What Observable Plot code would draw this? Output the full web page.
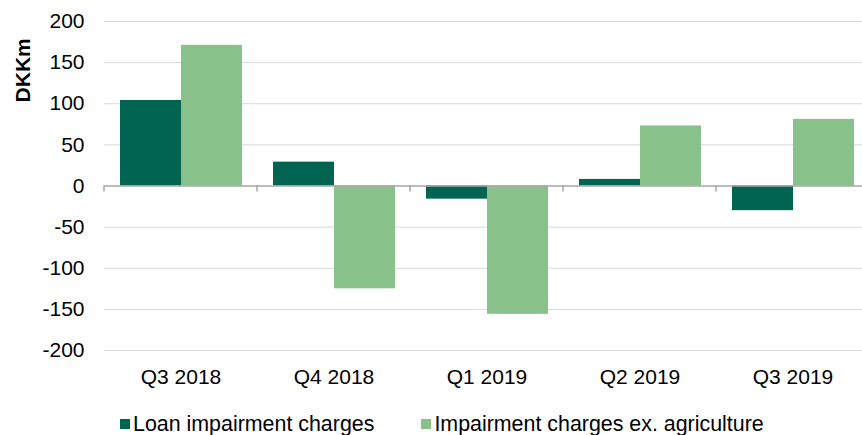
<!DOCTYPE html>
<html><head><meta charset="utf-8">
<script src="https://cdn.jsdelivr.net/npm/d3@7"></script>
<script src="https://cdn.jsdelivr.net/npm/@observablehq/plot@0.6"></script>
<style>
body{margin:0;background:#fff;}
#wrap{position:relative;width:862px;height:435px;overflow:hidden;font-family:"Liberation Sans",Arial,sans-serif;background:#fff;}
#legend{position:absolute;left:120px;top:412px;font-size:21.4px;color:#000;display:flex;align-items:center;white-space:nowrap;line-height:24px;}
.item{display:flex;align-items:center;}
.sw{display:inline-block;width:10px;height:10px;margin-right:3px;}
</style></head>
<body><div id="wrap"><div id="chart"></div><div id="legend"></div></div>
<script>
const quarters = ["Q3 2018", "Q4 2018", "Q1 2019", "Q2 2019", "Q3 2019"];
const seriesNames = ["Loan impairment charges", "Impairment charges ex. agriculture"];
const loanImpairment = [104, 29, -16, 8, -30];
const exAgriculture = [171, -125, -156, 73, 81];
const yTicks = [-200, -150, -100, -50, 0, 50, 100, 150, 200];
const colors = ["#006450", "#88c189"];
const yLabel = "DKKm";

const data = quarters.flatMap((q, i) => [
  {quarter: q, series: seriesNames[0], value: loanImpairment[i]},
  {quarter: q, series: seriesNames[1], value: exAgriculture[i]}
]);

const chart = Plot.plot({
  width: 862, height: 400,
  marginTop: 21, marginBottom: 50, marginLeft: 104, marginRight: 0,
  style: {fontFamily: "'Liberation Sans', Arial, sans-serif", fontSize: "21px", color: "#000", background: "#fff"},
  facet: {data, x: "quarter"},
  fx: {domain: quarters, range: [104, 869], padding: 0, axis: "bottom", tickSize: 0, tickPadding: 19, label: null},
  x: {domain: seriesNames, axis: null, paddingInner: 0, paddingOuter: 0.254},
  y: {domain: [-200, 200], ticks: yTicks, tickSize: 0, tickPadding: 20, label: null, tickFormat: d => String(d)},
  color: {domain: seriesNames, range: colors},
  marks: [
    Plot.ruleY(yTicks.filter(v => v !== 0), {stroke: "#d9d9d9", strokeWidth: 1}),
    Plot.barY(data, {x: "series", y: "value", fill: "series", inset: 0}),
    Plot.ruleY([0], {stroke: "#a6a6a6", strokeWidth: 1.5})
  ]
});
document.getElementById("chart").appendChild(chart);

// tick marks on the zero line at category boundaries, and the rotated unit label
const svg = d3.select(chart);
try {
  const fx = chart.scale("fx");
  const ys = chart.scale("y");
  const bounds = quarters.map(q => fx.apply(q));
  bounds.push(fx.apply(quarters[quarters.length - 1]) + fx.bandwidth);
  const y0 = ys.apply(0);
  svg.append("g").attr("stroke", "#a6a6a6").attr("stroke-width", 1.5)
    .selectAll("line").data(bounds).join("line")
    .attr("x1", d => d).attr("x2", d => d).attr("y1", y0).attr("y2", y0 + 6);
  svg.append("text")
    .attr("transform", `translate(30,${ys.apply(140)}) rotate(-90)`)
    .attr("text-anchor", "middle")
    .attr("font-weight", "bold").attr("font-size", 21)
    .attr("fill", "#000")
    .text(yLabel);
} catch (e) { console.error(e); }

const legend = d3.select("#legend");
seriesNames.forEach((s, i) => {
  const it = legend.append("div").attr("class", "item").style("margin-left", i ? "47px" : "0px");
  it.append("span").attr("class", "sw").style("background", colors[i]);
  it.append("span").text(s);
});
</script>
</body></html>
